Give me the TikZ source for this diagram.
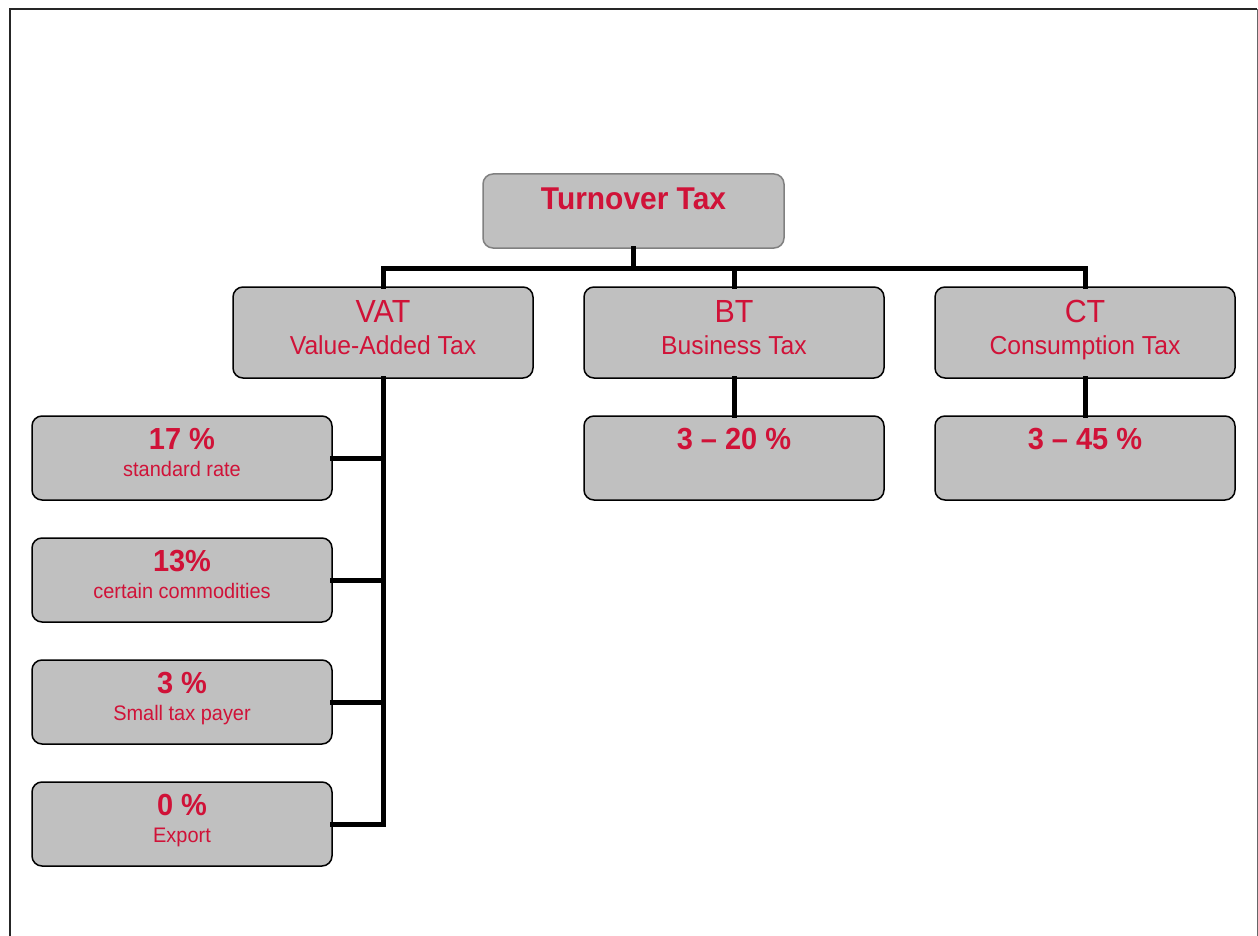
\documentclass[tikz,border=0pt]{standalone}
\usepackage{fontspec}
\setmainfont{Liberation Sans}[FakeStretch=0.95]
\definecolor{txtred}{RGB}{208,18,56}
\definecolor{boxgray}{RGB}{192,192,192}
\definecolor{rootborder}{RGB}{128,128,128}
\tikzset{
  box/.style={draw=black, fill=boxgray, line width=1.5pt, rounded corners=10pt, minimum width=300pt, minimum height=84pt, inner sep=0pt},
  midbox/.style={box, minimum height=91pt},
  rootbox/.style={box, draw=rootborder, minimum width=301pt, minimum height=74pt},
  lbl/.style={text=txtred, anchor=base, inner sep=0pt},
  conn/.style={line width=5pt, line join=miter, line cap=rect},
}
\begin{document}
\begin{tikzpicture}[x=1pt,y=-1pt]
\useasboundingbox (0,0) rectangle (1258,936);
% frame
\draw[line width=2.2pt, black!85] (10,960) -- (10,9) -- (1257,9);
\draw[line width=1pt, black!60] (1257,9) -- (1257,960);

% boxes
\node[rootbox] (tt) at (633.5,211) {};
\node[midbox] (vat) at (383,332.5) {};
\node[midbox] (bt) at (734,332.5) {};
\node[midbox] (ct) at (1085,332.5) {};
\node[box] (btc) at (734,458) {};
\node[box] (ctc) at (1085,458) {};
\node[box] (c1) at (182,458) {};
\node[box] (c2) at (182,580) {};
\node[box] (c3) at (182,702) {};
\node[box] (c4) at (182,824) {};

% labels
\node[lbl, font=\fontsize{31.5}{36}\selectfont\bfseries] (ttl) at (633.5,209.5) {Turnover Tax};
\node[lbl, font=\fontsize{32}{36}\selectfont] (vatl) at (383,322) {VAT};
\node[lbl, font=\fontsize{26}{30}\selectfont] (vats) at (383,354) {Value-Added Tax};
\node[lbl, font=\fontsize{32}{36}\selectfont] (btl) at (734,322) {BT};
\node[lbl, font=\fontsize{26}{30}\selectfont] (bts) at (734,354) {Business Tax};
\node[lbl, font=\fontsize{32}{36}\selectfont] (ctl) at (1085,322) {CT};
\node[lbl, font=\fontsize{26}{30}\selectfont] (cts) at (1085,354) {Consumption Tax};
\node[lbl, font=\fontsize{30.5}{34}\selectfont\bfseries] (btcl) at (734,449) {3 – 20 \%};
\node[lbl, font=\fontsize{30.5}{34}\selectfont\bfseries] (ctcl) at (1085,449) {3 – 45 \%};
\node[lbl, font=\fontsize{30.5}{34}\selectfont\bfseries] (c1l) at (182,449) {17 \%};
\node[lbl, font=\fontsize{21}{24}\selectfont] (c1s) at (182,476) {standard rate};
\node[lbl, font=\fontsize{30.5}{34}\selectfont\bfseries] (c2l) at (182,571) {13\%};
\node[lbl, font=\fontsize{21}{24}\selectfont] (c2s) at (182,598) {certain commodities};
\node[lbl, font=\fontsize{30.5}{34}\selectfont\bfseries] (c3l) at (182,693) {3 \%};
\node[lbl, font=\fontsize{21}{24}\selectfont] (c3s) at (182,720) {Small tax payer};
\node[lbl, font=\fontsize{30.5}{34}\selectfont\bfseries] (c4l) at (182,815) {0 \%};
\node[lbl, font=\fontsize{21}{24}\selectfont] (c4s) at (182,842) {Export};

% connectors
\coordinate (bus) at (633.5,268);
\draw[conn] (tt.south) -- (bus);
\draw[conn] (vat.north) -- (vat.north |- bus) -- (ct.north |- bus) -- (ct.north);
\draw[conn] (bt.north) -- (bt.north |- bus);
\draw[conn] (bt.south) -- (btc.north);
\draw[conn] (ct.south) -- (ctc.north);
\draw[conn] (vat.south) |- (c4.east);
\draw[conn] (c1.east) -- (vat.south |- c1.east);
\draw[conn] (c2.east) -- (vat.south |- c2.east);
\draw[conn] (c3.east) -- (vat.south |- c3.east);
\end{tikzpicture}
\end{document}
